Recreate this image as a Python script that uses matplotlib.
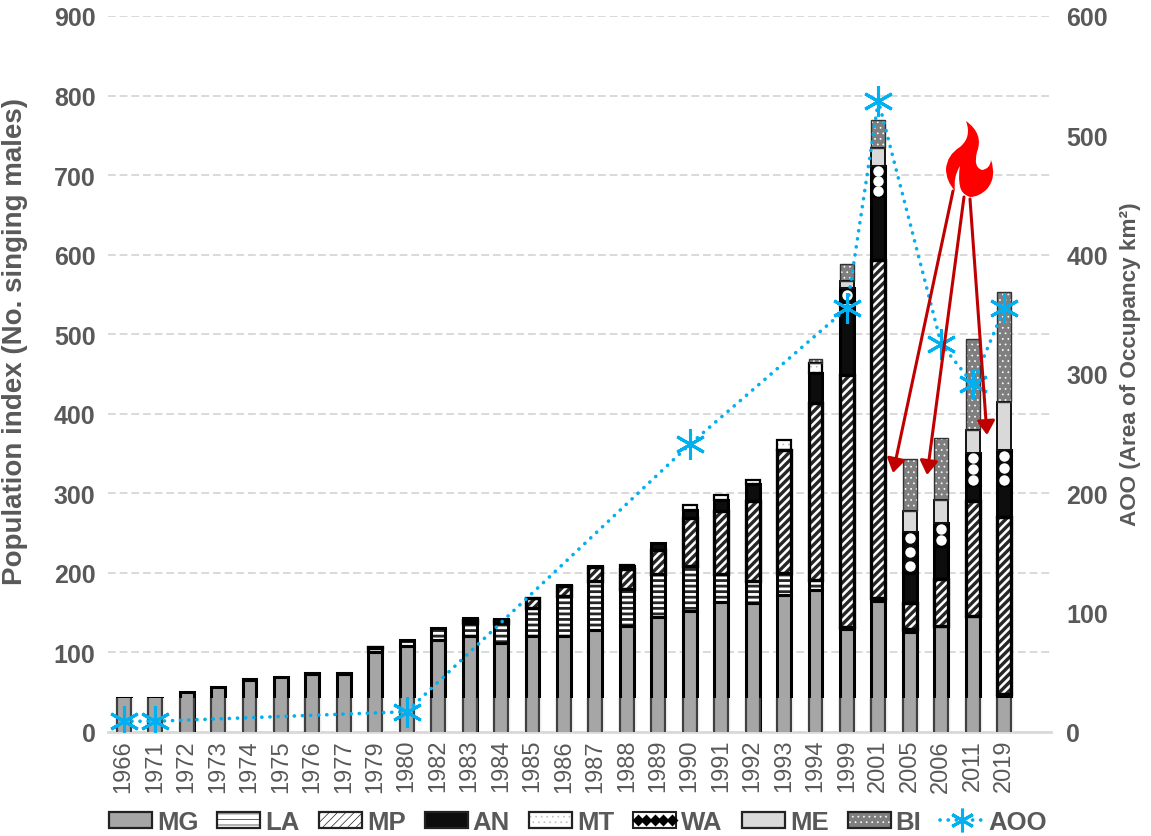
import matplotlib
matplotlib.use("Agg")
import numpy as np
import matplotlib.pyplot as plt
from matplotlib.patches import Patch, Rectangle, PathPatch
from matplotlib.path import Path
from matplotlib.lines import Line2D
from matplotlib.legend_handler import HandlerTuple, HandlerBase
from matplotlib.transforms import Affine2D

plt.rcParams['font.family'] = ['Liberation Sans', 'DejaVu Sans']

years = ['1966','1971','1972','1973','1974','1975','1976','1977','1979','1980','1982','1983','1984','1985','1986',
         '1987','1988','1989','1990','1991','1992','1993','1994','1999','2001','2005','2006','2011','2019']
MG = [43,43,50,57,65,69,73,73,100,108,116,121,112,121,121,128,133,144,152,163,162,172,178,130,165,126,133,146,44]
LA = [0,0,0,0,0,0,0,0,5,8,15,16,25,35,50,62,47,55,57,35,28,28,13,2,3,4,0,0,4]
MP = [0,0,0,0,0,0,0,0,2,0,0,4,4,12,13,18,25,30,60,80,100,155,223,317,425,32,59,144,222]
AN = [0,0,0,0,1,0,1,1,0,0,0,2,1,0,1,1,4,8,10,13,22,0,37,86,81,38,42,20,40]
MT = [0,0,0,0,0,0,0,0,0,0,0,0,0,0,0,0,1,0,6,7,5,12,13,5,0,0,0,0,0]
WA = [0,0,0,0,0,0,0,0,0,0,0,0,0,0,0,0,0,0,0,0,0,0,0,18,38,52,29,41,44]
ME = [0,0,0,0,0,0,0,0,0,0,0,0,0,0,0,0,0,0,0,0,0,0,0,9,22,26,28,28,61]
BI = [0,0,0,0,0,0,0,0,0,0,0,0,0,0,0,0,0,0,0,0,0,0,5,21,35,65,79,115,138]
aoo_years = ['1966','1971','1980','1990','1999','2001','2006','2011','2019']
aoo = [9,9,17,241,355,529,325,292,355]
left_ticks = [0,100,200,300,400,500,600,700,800,900]
right_ticks = [0,100,200,300,400,500,600]
band_top = 43
GREY = '#595959'
BLUE = '#00b0f0'
RED = '#c00000'
BAR_W = 0.44

fig = plt.figure(figsize=(11.51, 8.37), dpi=100)
W, H = 1151, 837
AX_L, AX_R = 108, 1051
ax = fig.add_axes([AX_L/W, 1-733/H, (AX_R-AX_L)/W, (733-17)/H])
x = np.arange(len(years))
ax.set_xlim(-0.5, 29.49)
ax.set_ylim(0, 900)
ax.set_axisbelow(True)
ax.yaxis.grid(True, color='#d9d9d9', lw=1.4, ls=(0, (4, 2)))
ax.xaxis.grid(False)
for s in ['top', 'right', 'left']:
    ax.spines[s].set_visible(False)
ax.spines['bottom'].set_color('#d9d9d9')
ax.spines['bottom'].set_linewidth(2)
ax.tick_params(axis='both', length=0)
ax.set_xticks(x)
ax.set_xticklabels(years, rotation=90, fontsize=17, color=GREY)
ax.tick_params(axis='x', pad=5)
ax.set_yticks(left_ticks)
ax.set_yticklabels([str(t) for t in left_ticks], fontsize=18, fontweight='bold', color=GREY)
ax.tick_params(axis='y', pad=9)
ax.set_ylabel('Population index (No. singing males)', fontsize=20, fontweight='bold', color=GREY)
ax.yaxis.set_label_coords((28-AX_L)/(AX_R-AX_L), 0.547)

series = [
    ('MG', MG, '#a6a6a6', None, None, 2.2, 1),
    ('LA', LA, 'white', '---', '#262626', 2.2, 2),
    ('MP', MP, 'white', '////', '#262626', 2.4, 2.4),
    ('AN', AN, '#0d0d0d', None, None, 2.2, 1),
    ('MT', MT, 'white', '...', '#bfbfbf', 1.6, 0.5),
    ('WA', WA, '#0d0d0d', None, None, 2.2, 1),
    ('ME', ME, '#d9d9d9', None, None, 1.4, 1),
    ('BI', BI, '#7f7f7f', '...', 'white', 1.0, 0.5),
]
bottom = np.zeros(len(years))
edge_col = {'BI': '#333333', 'ME': '#111111'}
for name, vals, fc, hatch, hc, lw, hlw in series:
    v = np.array(vals, float)
    plt.rcParams['hatch.linewidth'] = hlw
    ax.bar(x, v, BAR_W, bottom=bottom, color=fc, hatch=hatch, edgecolor=hc if hatch else fc, lw=0, zorder=2)
    ax.bar(x, v, BAR_W, bottom=bottom, fill=False, edgecolor=[edge_col.get(name, 'black') if a > 0 else (0, 0, 0, 0) for a in v],
           lw=lw, zorder=3)
    if name == 'WA':
        for xi, b, h in zip(x, bottom, v):
            if h > 0:
                n = max(1, int(round(h / 15)))
                ys = b + (np.arange(n) + 0.5) * h / n
                ax.plot([xi] * n, ys, ls='none', marker='o', ms=7.5, mfc='white', mec='none', zorder=4)
    bottom = bottom + v
# lower band of every column has only a thin grey outline at its sides
ax.bar(x, [band_top] * len(x), BAR_W + 0.12, color='white', lw=0, zorder=4)
ax.bar(x, [band_top] * len(x), BAR_W, color='#a6a6a6', lw=0, zorder=4.1)
ax.vlines(np.concatenate([x - BAR_W / 2, x + BAR_W / 2]), 0, band_top, color='#404040', lw=1.6, zorder=4.2)

ax2 = ax.twinx()
ax2.set_ylim(0, 600)
ax2.set_yticks(right_ticks)
ax2.set_yticklabels([str(t) for t in right_ticks], fontsize=18, fontweight='bold', color=GREY)
ax2.tick_params(axis='y', length=0, pad=11)
for s in ax2.spines.values():
    s.set_visible(False)
ax2.set_ylabel('AOO (Area of Occupancy km²)', fontsize=16.2, fontweight='bold', color=GREY)
ax2.yaxis.set_label_coords((1120-AX_L)/(AX_R-AX_L), 0.515)
aoo_x = [years.index(y) for y in aoo_years]
ax2.plot(aoo_x, aoo, color=BLUE, lw=2.6, ls=(0, (0.05, 2.2)), dash_capstyle='round',
         marker=(6, 2, 0), ms=22, mew=2.2, mec=BLUE, zorder=6)

# flame and arrows, placed in pixels of the figure
to_fig = Affine2D().scale(1/W, -1/H).translate(0, 1) + fig.transFigure
flame_pts = [(966,122),(984,135),(977,153),(973,168),(982,171),(990,170),(991,161),(997,178),(987,190),(979,198),(970,198),
             (961,195),(960,187),(958,178),(960,167),(953,178),(955,192),(946,182),(946,170),(947,156),(960,148),(972,138),(966,122)]
codes = [Path.MOVETO] + [Path.CURVE3] * (len(flame_pts) - 1)
fig.add_artist(PathPatch(Path(flame_pts, codes), facecolor='#ff0000', edgecolor='none', transform=to_fig, zorder=7))
arrow_tails = [(953,192),(964,198),(970,200)]
arrow_tips = [(893,474),(927,476),(987,436)]
for t, h in zip(arrow_tails, arrow_tips):
    ax2.annotate('', xy=h, xytext=t, xycoords=to_fig, textcoords=to_fig, zorder=8,
                 arrowprops=dict(arrowstyle='-|>,head_length=0.7,head_width=0.45', color=RED, lw=2.2,
                                 shrinkA=0, shrinkB=0, mutation_scale=12))

# legend
class WAHandler(HandlerBase):
    def create_artists(self, legend, orig, xd, yd, width, height, fontsize, trans):
        r = Rectangle((-xd, -yd), width, height, facecolor='white', edgecolor='#222222', lw=1.5, transform=trans)
        xs = -xd + (np.arange(5) + 0.5) * width / 5
        m = Line2D(xs, [-yd + height / 2] * 5, ls='none', marker='D', ms=6, mfc='black', mec='none', transform=trans)
        return [r, m]

def swatch(fc, hatch=None, hc=None, hlw=1.5, ec='#222222'):
    plt.rcParams['hatch.linewidth'] = hlw
    return (Patch(facecolor=fc, hatch=hatch, edgecolor=hc if hatch else fc, lw=0),
            Patch(fill=False, edgecolor=ec, lw=1.6))

handles = [swatch('#a6a6a6'), swatch('white', '---', '#222222', 2), swatch('white', '////', '#222222', 2.4),
           swatch('#0d0d0d'), swatch('white', '...', '#bfbfbf', 0.5), Patch(label='WA'),
           swatch('#d9d9d9'), swatch('#7f7f7f', '...', 'white', 0.5),
           Line2D([], [], color=BLUE, lw=2.6, ls=(0, (0.05, 2.2)), dash_capstyle='round', marker=(6, 2, 0), ms=17, mew=2.2)]
labels = ['MG', 'LA', 'MP', 'AN', 'MT', 'WA', 'ME', 'BI', 'AOO']
hmap = {tuple: HandlerTuple(ndivide=1, pad=0), handles[5]: WAHandler()}
leg = fig.legend(handles, labels, handler_map=hmap, ncol=9, loc='center', bbox_to_anchor=(578/W, 1-823/H),
                 frameon=False, prop=dict(weight='bold', size=18.5), handlelength=1.67, handleheight=0.62,
                 handletextpad=0.2, columnspacing=0.74, borderpad=0, labelcolor=GREY)

fig.savefig('out.png', dpi=100)
